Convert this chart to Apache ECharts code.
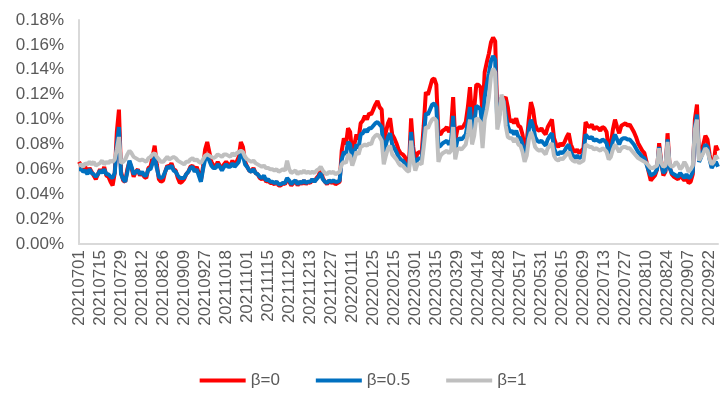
<!DOCTYPE html>
<html><head><meta charset="utf-8">
<script src="https://cdn.jsdelivr.net/npm/echarts@6/dist/echarts.min.js"></script>
<style>html,body{margin:0;padding:0;background:#fff}#c{width:726px;height:396px}</style>
</head><body><div id="c"></div>
<script>
const dates = [
'20210701','20210702','20210705','20210706','20210707','20210708','20210709','20210712','20210713','20210714','20210715','20210716','20210719','20210720','20210721','20210722','20210723','20210726','20210727','20210728','20210729','20210730',
'20210802','20210803','20210804','20210805','20210806','20210809','20210810','20210811','20210812','20210813','20210816','20210817','20210818','20210819','20210820','20210823','20210824','20210825','20210826','20210827','20210830','20210831',
'20210901','20210902','20210903','20210906','20210907','20210908','20210909','20210910','20210913','20210914','20210915','20210916','20210917','20210922','20210923','20210924','20210927','20210928','20210929','20210930',
'20211008','20211011','20211012','20211013','20211014','20211015','20211018','20211019','20211020','20211021','20211022','20211025','20211026','20211027','20211028','20211029',
'20211101','20211102','20211103','20211104','20211105','20211108','20211109','20211110','20211111','20211112','20211115','20211116','20211117','20211118','20211119','20211122','20211123','20211124','20211125','20211126','20211129','20211130',
'20211201','20211202','20211203','20211206','20211207','20211208','20211209','20211210','20211213','20211214','20211215','20211216','20211217','20211220','20211221','20211222','20211223','20211224','20211227','20211228','20211229','20211230','20211231',
'20220104','20220105','20220106','20220107','20220110','20220111','20220112','20220113','20220114','20220117','20220118','20220119','20220120','20220121','20220124','20220125','20220126','20220127','20220128',
'20220207','20220208','20220209','20220210','20220211','20220214','20220215','20220216','20220217','20220218','20220221','20220222','20220223','20220224','20220225','20220228',
'20220301','20220302','20220303','20220304','20220307','20220308','20220309','20220310','20220311','20220314','20220315','20220316','20220317','20220318','20220321','20220322','20220323','20220324','20220325','20220328','20220329','20220330','20220331',
'20220401','20220406','20220407','20220408','20220411','20220412','20220413','20220414','20220415','20220418','20220419','20220420','20220421','20220422','20220425','20220426','20220427','20220428','20220429',
'20220505','20220506','20220509','20220510','20220511','20220512','20220513','20220516','20220517','20220518','20220519','20220520','20220523','20220524','20220525','20220526','20220527','20220530','20220531',
'20220601','20220602','20220606','20220607','20220608','20220609','20220610','20220613','20220614','20220615','20220616','20220617','20220620','20220621','20220622','20220623','20220624','20220627','20220628','20220629','20220630',
'20220701','20220704','20220705','20220706','20220707','20220708','20220711','20220712','20220713','20220714','20220715','20220718','20220719','20220720','20220721','20220722','20220725','20220726','20220727','20220728','20220729',
'20220801','20220802','20220803','20220804','20220805','20220808','20220809','20220810','20220811','20220812','20220815','20220816','20220817','20220818','20220819','20220822','20220823','20220824','20220825','20220826','20220829','20220830','20220831',
'20220901','20220902','20220905','20220906','20220907','20220908','20220909','20220913','20220914','20220915','20220916','20220919','20220920','20220921','20220922','20220923','20220926','20220927','20220928'
];

// values in percent
const beta0 = [
.066,.063,.060,.062,.057,.061,.058,.055,.052,.056,
.060,.057,.062,.055,.054,.050,.047,.057,.090,.108,
.058,.051,.050,.060,.066,.061,.054,.058,.060,.055,
.058,.054,.053,.061,.062,.070,.079,.064,.052,.050,
.051,.058,.063,.062,.065,.060,.059,.053,.049,.050,
.052,.056,.058,.062,.063,.059,.062,.057,.051,.062,
.076,.082,.074,.066,.063,.062,.066,.063,.060,.064,
.066,.064,.063,.067,.063,.066,.070,.082,.078,.066,
.062,.059,.058,.061,.057,.056,.053,.052,.054,.050,
.051,.049,.049,.048,.050,.047,.047,.049,.048,.052,
.050,.047,.049,.051,.047,.050,.048,.051,.048,.050,
.049,.052,.050,.053,.055,.060,.053,.050,.048,.051,
.049,.050,.048,.049,.050,.075,.085,.080,.093,.090,
.072,.080,.088,.084,.097,.099,.103,.100,.105,.104,
.108,.112,.115,.110,.108,.080,.090,.097,.101,.088,
.085,.081,.076,.073,.072,.070,.066,.064,.101,.078,
.066,.073,.074,.073,.095,.122,.120,.126,.132,.133,
.128,.089,.088,.091,.092,.094,.090,.093,.118,.083,
.092,.094,.093,.095,.098,.110,.126,.100,.108,.128,
.128,.126,.105,.138,.146,.153,.162,.166,.163,.104,
.108,.117,.116,.118,.110,.098,.100,.097,.101,.095,
.094,.088,.076,.082,.100,.114,.108,.096,.092,.091,
.093,.090,.088,.094,.097,.100,.085,.080,.078,.081,
.079,.082,.086,.089,.080,.076,.074,.076,.073,.075,
.077,.098,.095,.094,.096,.092,.094,.093,.091,.094,
.093,.090,.076,.080,.092,.100,.094,.089,.095,.096,
.097,.095,.096,.093,.090,.086,.081,.078,.075,.073,
.066,.058,.051,.053,.055,.060,.081,.066,.055,.058,
.089,.062,.056,.054,.053,.052,.055,.053,.051,.054,
.049,.050,.056,.100,.112,.068,.073,.080,.087,.084,
.072,.062,.066,.079,.075
];
const beta05 = [
.060,.060,.058,.059,.056,.060,.057,.056,.054,.056,
.059,.057,.060,.056,.056,.054,.053,.057,.080,.094,
.056,.052,.050,.058,.067,.062,.056,.058,.059,.056,
.058,.055,.055,.060,.060,.065,.070,.061,.054,.053,
.054,.058,.062,.061,.063,.059,.058,.055,.053,.053,
.053,.056,.058,.061,.062,.058,.060,.055,.050,.060,
.068,.070,.067,.063,.061,.061,.064,.062,.059,.062,
.064,.062,.062,.065,.062,.064,.066,.073,.071,.064,
.062,.059,.058,.060,.057,.056,.054,.053,.055,.051,
.052,.050,.050,.049,.050,.048,.048,.049,.049,.053,
.051,.048,.050,.051,.048,.050,.049,.051,.049,.050,
.050,.052,.050,.052,.054,.057,.052,.050,.049,.051,
.050,.051,.050,.050,.051,.068,.074,.072,.082,.080,
.068,.074,.080,.077,.088,.089,.092,.090,.093,.093,
.095,.097,.098,.096,.094,.072,.080,.086,.089,.080,
.077,.074,.070,.068,.067,.065,.062,.061,.090,.072,
.062,.068,.069,.068,.085,.105,.104,.108,.112,.113,
.110,.078,.079,.081,.082,.083,.080,.083,.103,.075,
.083,.085,.084,.086,.088,.098,.110,.089,.096,.111,
.110,.108,.092,.118,.128,.137,.147,.151,.148,.097,
.104,.118,.115,.104,.095,.090,.091,.088,.091,.086,
.085,.080,.071,.076,.092,.100,.095,.086,.083,.082,
.083,.081,.079,.084,.087,.089,.077,.073,.072,.074,
.073,.075,.078,.080,.074,.071,.069,.071,.069,.070,
.072,.088,.086,.085,.086,.083,.084,.083,.082,.084,
.083,.081,.072,.075,.083,.088,.084,.080,.084,.085,
.085,.084,.084,.082,.080,.077,.074,.072,.070,.069,
.064,.059,.055,.056,.057,.060,.078,.064,.057,.059,
.084,.061,.057,.056,.055,.054,.057,.055,.053,.056,
.053,.054,.058,.094,.104,.066,.070,.075,.080,.078,
.068,.061,.064,.066,.062
];
const beta1 = [
.063,.064,.062,.065,.064,.066,.064,.066,.063,.064,
.065,.067,.064,.066,.065,.067,.066,.068,.076,.086,
.065,.066,.068,.072,.075,.073,.070,.069,.068,.067,
.068,.067,.066,.069,.070,.072,.073,.070,.068,.066,
.066,.068,.070,.068,.069,.070,.069,.067,.066,.065,
.064,.066,.066,.068,.069,.067,.068,.066,.065,.068,
.071,.072,.071,.070,.069,.070,.072,.071,.070,.072,
.072,.071,.070,.073,.071,.073,.074,.075,.074,.070,
.068,.067,.066,.067,.065,.064,.063,.062,.063,.061,
.061,.060,.060,.059,.060,.058,.059,.060,.059,.067,
.060,.057,.058,.059,.056,.058,.057,.059,.057,.058,
.057,.058,.057,.059,.060,.062,.059,.057,.056,.058,
.057,.058,.056,.057,.058,.064,.066,.065,.072,.071,
.063,.068,.074,.072,.078,.079,.080,.079,.081,.080,
.085,.087,.088,.086,.083,.064,.071,.077,.079,.072,
.070,.068,.065,.063,.063,.061,.059,.058,.083,.067,
.059,.064,.065,.064,.078,.094,.093,.097,.100,.101,
.099,.066,.071,.073,.074,.075,.073,.075,.094,.068,
.076,.077,.076,.078,.080,.089,.100,.080,.087,.101,
.100,.098,.077,.100,.108,.118,.135,.141,.138,.092,
.100,.120,.114,.095,.086,.085,.085,.082,.085,.080,
.079,.074,.066,.071,.084,.090,.085,.078,.076,.075,
.076,.074,.072,.077,.079,.081,.071,.068,.067,.069,
.068,.070,.072,.074,.069,.067,.066,.067,.065,.066,
.067,.080,.079,.078,.078,.076,.077,.076,.075,.077,
.076,.074,.068,.070,.076,.080,.077,.074,.077,.078,
.078,.077,.077,.075,.073,.071,.069,.068,.067,.066,
.065,.063,.061,.061,.062,.063,.077,.065,.062,.063,
.082,.064,.062,.063,.066,.064,.060,.062,.066,.063,
.058,.060,.063,.092,.100,.067,.070,.073,.077,.075,
.068,.064,.066,.071,.068
];
const seriesNames = ['β=0', 'β=0.5', 'β=1'];
const seriesColors = ['#FF0000', '#0070C0', '#BFBFBF'];
const seriesData = [beta0, beta05, beta1];

const chart = echarts.init(document.getElementById('c'), null, {renderer: 'canvas'});
const txt = '#595959';
chart.setOption({
  animation: false,
  backgroundColor: '#fff',
  textStyle: {fontFamily: 'Liberation Sans, Arial, sans-serif'},
  grid: {left: 79, right: 8, top: 20, bottom: 152, containLabel: false},
  legend: {
    data: seriesNames, left: 'center', top: 367, icon: 'rect',
    itemWidth: 46, itemHeight: 4, itemGap: 36,
    textStyle: {color: txt, fontSize: 17, fontFamily: 'Liberation Sans, Arial, sans-serif'}
  },
  xAxis: {
    type: 'category', data: dates, boundaryGap: false,
    axisLine: {lineStyle: {color: '#D9D9D9', width: 2}},
    axisTick: {show: false},
    axisLabel: {interval: 9, rotate: 90, color: txt, fontSize: 17, margin: 6, fontFamily: 'Liberation Sans, Arial, sans-serif'},
    splitLine: {show: false}
  },
  yAxis: {
    type: 'value', min: 0, max: 0.18, interval: 0.02,
    axisLine: {show: true, lineStyle: {color: '#D9D9D9', width: 2}},
    axisTick: {show: false},
    splitLine: {show: false},
    axisLabel: {color: txt, fontSize: 17, margin: 15, formatter: v => v.toFixed(2) + '%', fontFamily: 'Liberation Sans, Arial, sans-serif'}
  },
  series: seriesData.map((d, i) => ({
    name: seriesNames[i], type: 'line', data: d, showSymbol: false, symbol: 'none',
    lineStyle: {color: seriesColors[i], width: 4}, itemStyle: {color: seriesColors[i]}
  }))
});
</script></body></html>
